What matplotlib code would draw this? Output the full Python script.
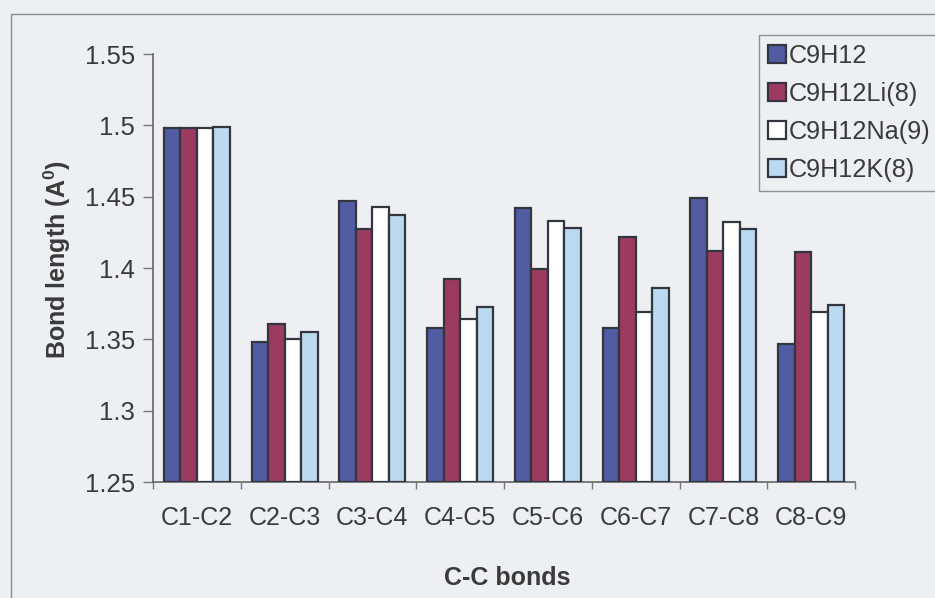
import matplotlib
matplotlib.use("Agg")
import matplotlib.pyplot as plt
import numpy as np
from matplotlib.patches import Rectangle

plt.rcParams['font.family'] = ['Liberation Sans', 'DejaVu Sans']

bonds = ["C1-C2", "C2-C3", "C3-C4", "C4-C5", "C5-C6", "C6-C7", "C7-C8", "C8-C9"]
series_names = ["C9H12", "C9H12Li(8)", "C9H12Na(9)", "C9H12K(8)"]
c9h12 = [1.498, 1.348, 1.447, 1.358, 1.442, 1.358, 1.449, 1.347]
c9h12_li = [1.498, 1.361, 1.427, 1.392, 1.399, 1.422, 1.412, 1.411]
c9h12_na = [1.498, 1.350, 1.443, 1.364, 1.433, 1.369, 1.432, 1.369]
c9h12_k = [1.499, 1.355, 1.437, 1.373, 1.428, 1.386, 1.427, 1.374]
yticks = [1.25, 1.3, 1.35, 1.4, 1.45, 1.5, 1.55]
ytick_labels = ["1.25", "1.3", "1.35", "1.4", "1.45", "1.5", "1.55"]

colors = ["#525CA2", "#9D3A60", "#FFFFFF", "#BBD9F0"]
bg = "#EDEFF3"
edge = "#33353F"
text_col = "#3A3A3A"

fig = plt.figure(figsize=(9.35, 5.98), dpi=100, facecolor=bg)
W, H = 935, 598

# outer chart frame
fig.patches.append(Rectangle((11 / W, -0.1), 1.2, 1 - 14 / H + 0.1,
                             transform=fig.transFigure, fill=False,
                             edgecolor="#8A8C90", linewidth=1.0))

ax = fig.add_axes([153 / W, 1 - 482 / H, (855 - 153) / W, (482 - 54) / H])
ax.set_facecolor(bg)

x = np.arange(len(bonds))
bw = 0.1886
data = [c9h12, c9h12_li, c9h12_na, c9h12_k]
handles = []
for i, (vals, col, name) in enumerate(zip(data, colors, series_names)):
    vals = np.asarray(vals)
    b = ax.bar(x + (i - 1.5) * bw, vals - 1.25, bw, bottom=1.25, color=col,
               edgecolor=edge, linewidth=1.6, label=name, zorder=3)
    handles.append(b)

ax.set_ylim(1.25, 1.55)
ax.set_xlim(-0.5, len(bonds) - 0.5)
ax.set_yticks(yticks)
ax.set_yticklabels(ytick_labels)
ax.set_xticks(x)
ax.set_xticklabels(bonds)
ax.set_xticks(np.arange(-0.5, len(bonds) + 0.5, 1.0), minor=True)
ax.tick_params(axis='x', which='major', length=0, pad=17, labelsize=18,
               labelcolor=text_col)
ax.tick_params(axis='x', which='minor', length=5, color="#777777", width=1)
ax.tick_params(axis='y', length=7, color="#777777", width=1, pad=6,
               labelsize=18.5, labelcolor=text_col)

for s in ["top", "right"]:
    ax.spines[s].set_visible(False)
for s in ["left", "bottom"]:
    ax.spines[s].set_color("#666666")
    ax.spines[s].set_linewidth(1.2)

fig.text(507 / W, 1 - 578 / H, "C-C bonds", ha="center", va="center",
         fontsize=18, fontweight="bold", color=text_col)
fig.text(57 / W, 1 - 260 / H, "Bond length (A$^{\\mathregular{0}}$)",
         ha="center", va="center", rotation=90, fontsize=18,
         fontweight="bold", color=text_col)

leg = fig.legend(handles=handles, labels=series_names, loc="upper left",
                 bbox_to_anchor=(759 / W, 1 - 35 / H), borderaxespad=0,
                 fontsize=18.2, frameon=True, fancybox=False,
                 handlelength=0.72, handleheight=0.72, handletextpad=0.08,
                 labelspacing=0.55, borderpad=0.36)
leg.get_frame().set_edgecolor("#777777")
leg.get_frame().set_facecolor(bg)
leg.get_frame().set_linewidth(1.0)
for t in leg.get_texts():
    t.set_color(text_col)

fig.savefig("out.png", dpi=100, facecolor=bg)
